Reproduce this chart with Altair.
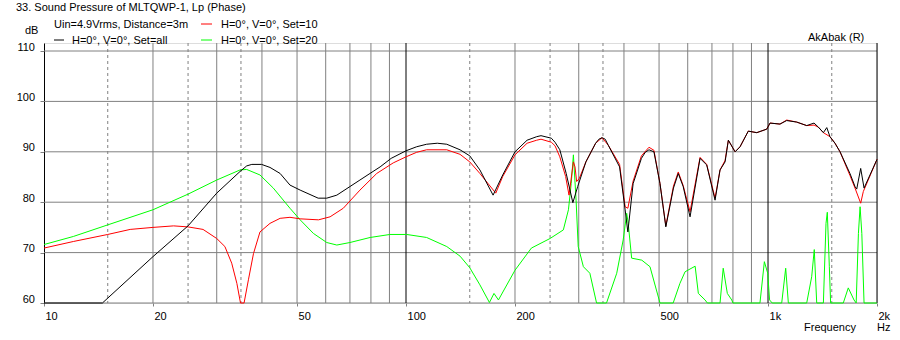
import altair as alt
import pandas as pd

# ---------------- data ----------------
black_f = [10, 14.5, 20, 25, 30, 34.8, 36.3, 37.5, 39.9, 42.1, 44.9, 47.8, 51, 57.2, 60.4, 64.4, 70, 74.6, 79.5,
           84.8, 91, 100, 107, 114, 122, 129.6, 141, 150, 160, 174, 185, 200, 216, 229.6, 236, 252, 258, 266,
           277, 289, 298, 314, 334, 341, 348, 355, 362, 389, 403, 410, 424, 447, 458, 469, 484, 503, 522, 548,
           565, 583, 609, 649, 677, 714, 737, 761, 777, 811, 837, 882, 931, 992, 1013, 1079, 1126, 1200, 1279,
           1340, 1377, 1422, 1453, 1483, 1531, 1581, 1684, 1739, 1758, 1803, 1842, 2000]
black_db = [60, 60, 69.2, 75.3, 81.8, 86.1, 87.2, 87.5, 87.5, 86.9, 85.7, 83.4, 82.4, 80.8, 80.8, 81.4, 83.1, 84.4, 85.7,
            87.0, 88.7, 90.2, 91.0, 91.5, 91.7, 91.5, 90.4, 89.2, 86.4, 81.4, 85.4, 90.0, 92.3, 93.0, 93.2, 92.7, 91.9, 90.4,
            85.7, 79.9, 83.1, 88.0, 91.7, 92.5, 92.8, 92.5, 91.3, 87.0, 78.5, 74.1, 83.7, 88.7, 89.9, 90.4, 90.0, 83.7, 75.1, 82.8,
            85.7, 83.1, 77.1, 88.7, 87.4, 80.4, 86.4, 88.0, 92.3, 90.0, 91.0, 94.1, 93.8, 94.5, 95.7, 95.5, 96.2, 95.9, 95.2,
            95.7, 94.9, 93.8, 94.8, 93.0, 91.7, 90.0, 85.7, 83.1, 82.6, 86.7, 82.8, 88.5]

red_f = [10, 12.05, 15, 17.3, 20, 22.8, 25, 27.5, 30, 31.6, 33.0, 34.1, 34.9, 35.7, 36.7, 37.9, 39.5, 42.1, 44.9,
         47.8, 51, 57.3, 61.7, 67.1, 74.6, 83.0, 92.2, 100, 107, 114, 129.6, 141, 150, 160, 177, 185, 200, 216, 229.6,
         236, 252, 258, 266, 276, 282, 290, 293, 296, 301, 314, 334, 348, 362, 389, 403, 410, 424, 447, 469, 484, 503,
         522, 548, 565, 583, 609, 649, 677, 714, 737, 761, 777, 811, 837, 882, 931, 992, 1013, 1079, 1126, 1200, 1279,
         1340, 1377, 1422, 1483, 1531, 1581, 1684, 1739, 1803, 1833, 2000]
red_db = [70.9, 72.2, 73.6, 74.6, 75.0, 75.3, 75.1, 74.6, 72.8, 71.2, 67.9, 63.9, 60.0, 60.0, 64.6, 69.8, 74.1, 75.8, 76.8,
          77.0, 76.7, 76.5, 77.1, 78.8, 82.4, 85.7, 87.8, 89.0, 89.9, 90.4, 90.4, 89.5, 88.0, 85.7, 81.8, 85.1, 89.4, 91.7, 92.3,
          92.5, 91.9, 91.2, 89.0, 85.1, 81.4, 88.0, 87.0, 84.1, 84.7, 88.0, 91.7, 92.8, 91.3, 87.5, 79.1, 78.8, 84.2, 89.2, 90.9, 90.3, 83.7,
          75.3, 83.2, 86.0, 83.3, 78.1, 88.9, 87.5, 80.8, 86.4, 88.3, 92.3, 90.0, 91.0, 94.1, 93.8, 94.5, 95.7, 95.5, 96.3, 95.9, 95.2,
          95.3, 94.9, 93.8, 93.0, 91.7, 90.0, 85.3, 82.8, 79.8, 82.1, 88.5]

green_f = [10, 12.05, 15, 20, 25, 30, 34.8, 36.3, 39.5, 43.0, 47.8, 51.0, 55.5, 60.4, 64.4, 70, 79.6, 90.3, 100.4, 114,
           129.6, 141, 150, 160, 170, 175, 180, 200, 222, 250, 272, 281, 286, 290, 295, 299, 309, 322, 336, 358, 382,
           398, 407, 411, 420, 448, 472, 503, 547, 571, 590, 629, 642, 670, 680, 737, 752, 772, 794, 800, 950, 977,
           998, 1010, 1027, 1091, 1119, 1138, 1279, 1320, 1342, 1363, 1422, 1446, 1458, 1477, 1489, 1614, 1666, 1728,
           1752, 1777, 1796, 1816, 1842, 2000]
green_db = [71.6, 73.2, 75.5, 78.5, 81.6, 84.4, 86.4, 86.5, 85.4, 82.8, 78.8, 76.5, 73.8, 72.0, 71.5, 72.0, 73.0, 73.6, 73.6, 73.0,
            71.2, 69.3, 67.0, 63.6, 60.1, 61.9, 60.6, 66.5, 70.9, 72.8, 74.5, 78.5, 83.7, 89.4, 80.4, 71.2, 67.2, 65.9, 60, 60, 65.9,
            72.5, 77.8, 75.8, 68.9, 68.5, 67.2, 60, 60, 63.9, 66.2, 67.3, 61.9, 60.6, 60, 60, 66.9, 61.9, 60.6, 60, 60, 68.2,
            65.9, 60.6, 60, 60, 66.9, 60, 60, 65.2, 70.6, 60, 60, 75.8, 78.0, 67.2, 60, 60, 63.0, 60.6,
            60, 73.8, 79.1, 73.8, 60, 60]

x_label_values = [10, 20, 50, 100, 200, 500, 1000, 2000]
y_label_values = [60, 70, 80, 90, 100, 110]
grid_solid = [20, 30, 40, 50, 60, 70, 80, 90, 200, 300, 400, 500, 600, 700, 800, 900]
grid_dashed = [15, 25, 35, 150, 250, 350, 1500]
grid_major = [100, 1000, 2000]

title_text = "33. Sound Pressure of MLTQWP-1, Lp (Phase)"
cond_text = "Uin=4.9Vrms, Distance=3m"
name_all = "H=0°, V=0°, Set=all"
name_10 = "H=0°, V=0°, Set=10"
name_20 = "H=0°, V=0°, Set=20"

# ---------------- styling / layout ----------------
FONT = "Liberation Sans"
GRAY = "#808080"
PAD_L, PAD_T, PAD_R, PAD_B = 44, 43, 23, 37
W, H = 833, 260
Y_TOP = 60 + H / 5.04

xs = alt.Scale(type="log", domain=[10, 2000], nice=False)
ys = alt.Scale(domain=[60, Y_TOP], nice=False, zero=False)

x_axis = alt.Axis(
    values=x_label_values,
    labelExpr="datum.value >= 1000 ? (datum.value / 1000) + 'k' : '' + datum.value",
    labelAlign="left", labelBaseline="top", labelPadding=4, labelOffset=1,
    labelFlush=False, labelOverlap=False,
    labelFont=FONT, labelFontSize=11, labelColor="black",
    tickSize=3, tickColor=GRAY,
    domain=False, grid=False, title=None,
)
y_axis = alt.Axis(
    values=y_label_values,
    labelAlign="right", labelBaseline="alphabetic", labelPadding=5.5, labelOffset=-1,
    labelFont=FONT, labelFontSize=11, labelColor="black",
    tickSize=4, tickColor=GRAY, domain=True, domainColor="black", domainWidth=1,
    grid=False, title=None,
)


def X():
    return alt.X("f:Q", scale=xs, axis=x_axis)


def Y():
    return alt.Y("db:Q", scale=ys, axis=y_axis)


def curve(f, d, color):
    df = pd.DataFrame({"f": f, "db": d, "i": list(range(len(f)))})
    return alt.Chart(df).mark_line(color=color, strokeWidth=1).encode(
        x=X(), y=Y(), order="i:Q")


def vgrid(vals, color, dash=None):
    kw = dict(color=color, strokeWidth=1)
    if dash:
        kw["strokeDash"] = dash
    return alt.Chart(pd.DataFrame({"f": vals})).mark_rule(**kw).encode(x=X())


hgrid = alt.Chart(pd.DataFrame({"db": y_label_values})).mark_rule(color=GRAY, strokeWidth=1).encode(y=Y())


def txt(s, x, y, align="left"):
    return alt.Chart(pd.DataFrame({"t": [s]})).mark_text(
        align=align, baseline="alphabetic", font=FONT, fontSize=11, color="black"
    ).encode(x=alt.value(x - PAD_L), y=alt.value(y - PAD_T), text="t:N")


def swatch(color, x0, x1, y):
    return alt.Chart(pd.DataFrame({"a": [0]})).mark_rule(color=color, strokeWidth=1).encode(
        x=alt.value(x0 - PAD_L), x2=alt.value(x1 - PAD_L), y=alt.value(y - PAD_T))


layers = [
    hgrid,
    vgrid(grid_solid, GRAY),
    vgrid(grid_dashed, GRAY, [3, 3]),
    vgrid(grid_major, "black"),
    curve(green_f, green_db, "#00FF00"),
    curve(red_f, red_db, "#FF0000"),
    curve(black_f, black_db, "#000000"),
    txt(title_text, 16, 11),
    txt(cond_text, 54, 28),
    swatch("#000000", 54, 64, 40),
    txt(name_all, 72, 44),
    swatch("#FF0000", 201, 212, 24),
    txt(name_10, 221, 28),
    swatch("#00FF00", 201, 212, 40),
    txt(name_20, 221, 44),
    txt("dB", 25, 34),
    txt("AkAbak (R)", 808, 41),
    txt("Frequency", 804, 331),
    txt("Hz", 877, 331),
]

chart = alt.layer(*layers).properties(
    width=W, height=H,
    autosize=alt.AutoSizeParams(type="none"),
    padding={"left": PAD_L, "top": PAD_T, "right": PAD_R, "bottom": PAD_B},
).configure_view(stroke="transparent").configure(background="white")

chart.save("out.html", embed_options={"renderer": "svg", "actions": False})
